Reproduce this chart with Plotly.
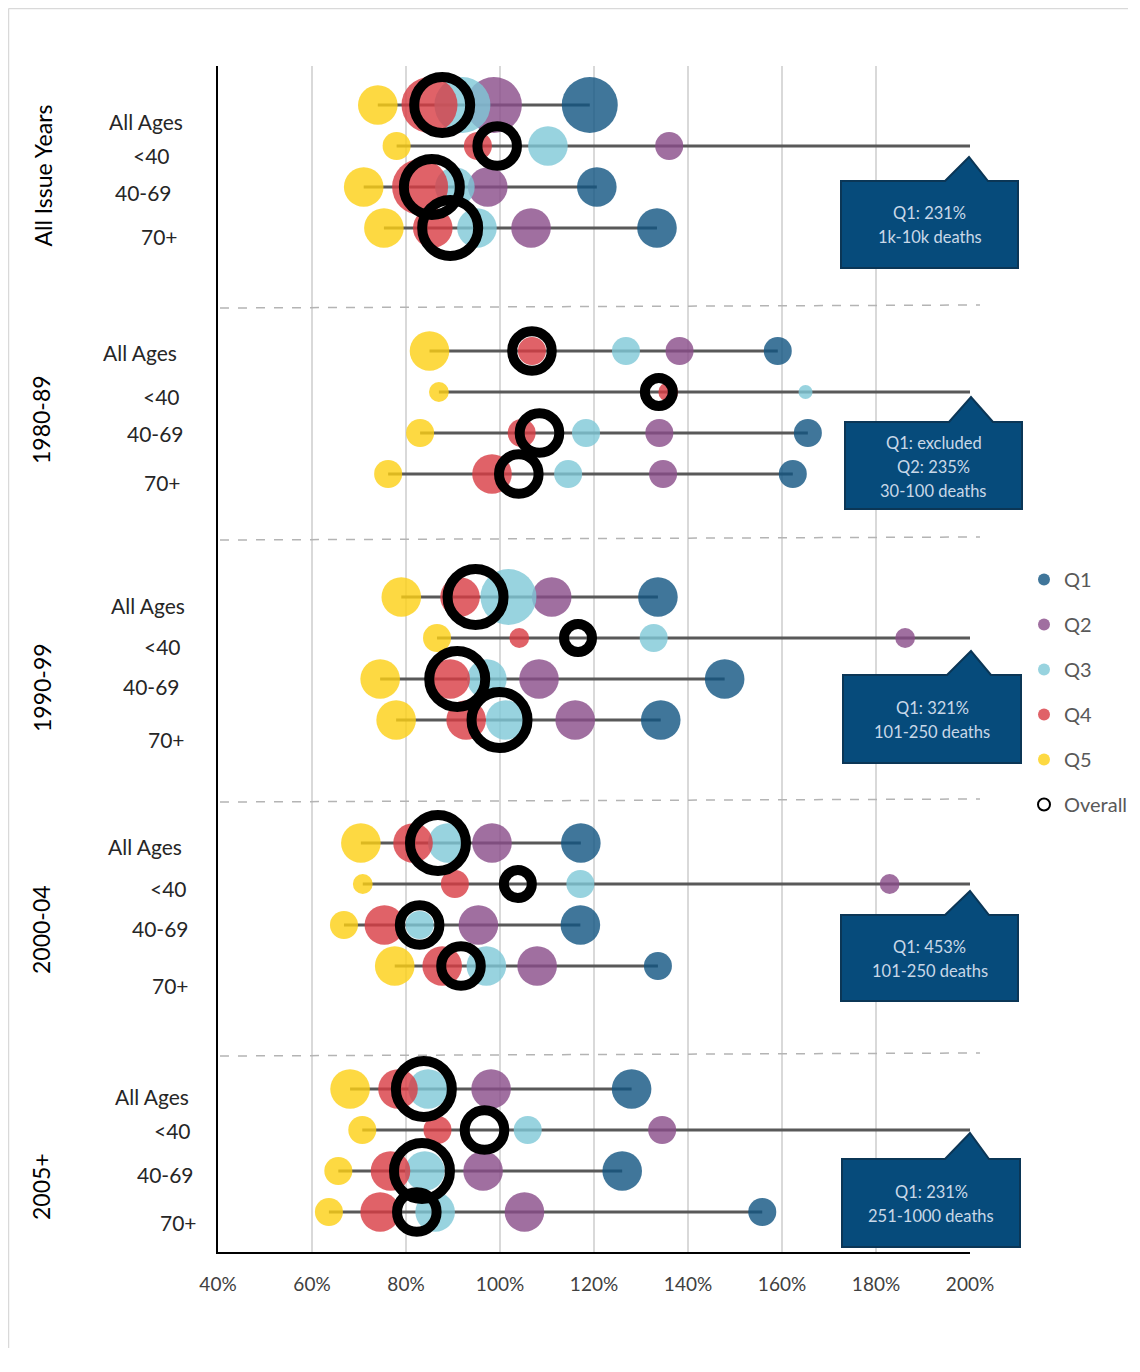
import plotly.graph_objects as go

# ---------------- data ----------------
groups = ["All Issue Years", "1980-89", "1990-99", "2000-04", "2005+"]
ages = ["All Ages", "<40", "40-69", "70+"]

# actual / expected ratios (%) per row (group-major, age-minor); None = off chart / excluded
q1 = [119.1, None, 120.6, 133.4, 159.1, None, 165.5, 162.3, 133.6, None, 147.8, 134.2,
      117.2, None, 117.1, 133.6, 128.0, None, 126.0, 155.8]
q2 = [98.7, 136.0, 97.4, 106.6, 138.2, None, 133.9, 134.7, 111.0, 186.2, 108.3, 116.0,
      98.3, 182.9, 95.4, 107.9, 98.1, 134.5, 96.4, 105.2]
q3 = [92.0, 110.2, 90.4, 95.1, 126.8, 165.0, 118.3, 114.5, 101.8, 132.7, 97.2, 101.2,
      88.9, 117.1, 82.9, 97.1, 84.7, 105.9, 84.0, 86.2]
q4 = [85.0, 95.3, 83.0, 85.7, 106.8, 135.8, 104.6, 98.3, 91.5, 104.1, 89.4, 92.8,
      81.5, 90.4, 75.4, 87.7, 78.3, 86.7, 76.7, 74.5]
q5 = [74.0, 78.0, 71.0, 75.3, 85.0, 87.0, 83.0, 76.2, 79.0, 86.6, 74.5, 77.9,
      70.4, 70.8, 66.8, 77.6, 68.1, 70.7, 65.6, 63.6]
overall = [87.7, 99.4, 85.5, 89.4, 106.8, 133.8, 108.4, 104.0, 94.8, 116.6, 90.9, 99.9,
           86.8, 103.8, 82.9, 91.7, 83.8, 96.7, 83.4, 82.3]

# relative volume (bubble area)
q1_vol = [16, None, 8, 8, 4, None, 4, 4, 8, None, 8, 8, 8, None, 8, 4, 8, None, 8, 4]
q2_vol = [16, 4, 8, 8, 4, None, 4, 4, 8, 2, 8, 8, 8, 2, 8, 8, 8, 4, 8, 8]
q3_vol = [16, 8, 8, 8, 4, 1, 4, 4, 16, 4, 8, 8, 8, 4, 4, 8, 8, 4, 8, 8]
q4_vol = [16, 4, 16, 8, 4, 2, 4, 8, 8, 2, 8, 8, 8, 4, 8, 8, 8, 4, 8, 8]
q5_vol = [8, 4, 8, 8, 8, 2, 4, 4, 8, 4, 8, 8, 8, 2, 4, 8, 8, 4, 4, 4]
overall_vol = [16, 8, 16, 16, 8, 4, 8, 8, 16, 4, 16, 16, 16, 4, 8, 8, 16, 8, 16, 8]

callout_texts = [
    ["Q1: 231%", "1k-10k deaths"],
    ["Q1: excluded", "Q2: 235%", "30-100 deaths"],
    ["Q1: 321%", "101-250 deaths"],
    ["Q1: 453%", "101-250 deaths"],
    ["Q1: 231%", "251-1000 deaths"],
]

x_ticks = [40, 60, 80, 100, 120, 140, 160, 180, 200]
x_tick_labels = ["40%", "60%", "80%", "100%", "120%", "140%", "160%", "180%", "200%"]
x_max = 200

# ---------------- layout helpers ----------------
W, H = 1120, 1340
PL, PR, PT, PB = 218, 970, 66, 1252   # plot area in page pixels


def px(x):
    return (x - PL) / (PR - PL)


def py(y):
    return (PB - y) / (PB - PT)


row_y = [g * 6 + a for g in range(len(groups)) for a in range(len(ages))]

FONT = "Lato"

fig = go.Figure()

# range lines
lx, ly = [], []
series = [q1, q2, q3, q4, q5]
for i, yv in enumerate(row_y):
    vals = [s[i] for s in series]
    present = [v for v in vals if v is not None]
    start = min(present)
    end = x_max if any(v is None for v in vals) else max(present)
    lx += [start, end, None]
    ly += [yv, yv, None]
fig.add_trace(go.Scatter(x=lx, y=ly, mode="lines", line=dict(color="#595959", width=3),
                         showlegend=False, hoverinfo="skip"))

colors = ["#105481", "#884b88", "#7ec8d7", "#d83b42", "#fccf13"]
names = ["Q1", "Q2", "Q3", "Q4", "Q5"]
vols = [q1_vol, q2_vol, q3_vol, q4_vol, q5_vol]
SIZEREF = 1 / 98.0

for name, col, s, v in zip(names, colors, series, vols):
    xs = [s[i] for i in range(len(s)) if s[i] is not None]
    ys = [row_y[i] for i in range(len(s)) if s[i] is not None]
    ss = [v[i] for i in range(len(s)) if s[i] is not None]
    fig.add_trace(go.Scatter(
        x=xs, y=ys, mode="markers", name=name, legendgroup=name,
        marker=dict(color=col, opacity=0.8, size=ss, sizemode="area", sizeref=SIZEREF,
                    line=dict(width=0)),
    ))

fig.add_trace(go.Scatter(
    x=overall, y=row_y, mode="markers", name="Overall", legendgroup="Overall",
    marker=dict(color="rgba(0,0,0,0)", opacity=1, size=overall_vol, sizemode="area",
                sizeref=SIZEREF, line=dict(color="black", width=10)),
))

shapes = []
# group separators (dashed)
for (yl, yr) in [(308, 305), (540, 537), (802, 799), (1056, 1053)]:
    shapes.append(dict(type="line", xref="paper", yref="paper", x0=px(220), x1=px(980),
                       y0=py(yl), y1=py(yr), line=dict(color="#b4b4b4", width=1.5, dash="dash"),
                       layer="above"))

# callouts
callouts = [
    (841, 1018, 181, 268, 945, 988, 969, 157),
    (845, 1022, 422, 509, 949, 993, 971, 397),
    (843, 1021, 675, 763, 947, 991, 971, 651),
    (841, 1018, 915, 1001, 945, 989, 970, 891),
    (842, 1020, 1159, 1247, 945, 989, 970, 1133),
]
annotations = []
LINE_GAP = 24
for (l, r, t, b, bl, br, tx, ty), lines in zip(callouts, callout_texts):
    path = (f"M {px(l)},{py(t)} L {px(bl)},{py(t)} L {px(tx)},{py(ty)} L {px(br)},{py(t)} "
            f"L {px(r)},{py(t)} L {px(r)},{py(b)} L {px(l)},{py(b)} Z")
    shapes.append(dict(type="path", xref="paper", yref="paper", path=path,
                       fillcolor="#064b7b", line=dict(color="#0b3656", width=2), layer="above"))
    cy = (t + b) / 2 + 1
    n = len(lines)
    for k, ln in enumerate(lines):
        yy = cy + (k - (n - 1) / 2) * LINE_GAP
        annotations.append(dict(xref="paper", yref="paper", x=px((l + r) / 2), y=py(yy),
                                text=ln, showarrow=False, xanchor="center", yanchor="middle",
                                font=dict(family=FONT, size=16.5, color="#c9d8e8")))

# outer border (left & top)
shapes.append(dict(type="line", xref="paper", yref="paper", x0=px(8.5), x1=px(8.5),
                   y0=py(8.5), y1=py(1400), line=dict(color="#d9d9d9", width=1.5)))
shapes.append(dict(type="line", xref="paper", yref="paper", x0=px(8.5), x1=px(1160),
                   y0=py(8.5), y1=py(8.5), line=dict(color="#d9d9d9", width=1.5)))

# age labels
age_label_dy = [16, 9, 5, 8, 1, 4, 0, 8, 8, 8, 7, 19, 3, 4, 3, 19, 7, 0, 3, 10]
age_label_cx = [145.5, 151, 143.5, 159.5, 139.5, 161, 155.5, 162.5, 147.5, 162.5, 151.5, 166,
                144.5, 168, 160, 170.5, 151.5, 172, 165.5, 178.5]
for i, yv in enumerate(row_y):
    annotations.append(dict(xref="paper", yref="y", x=px(age_label_cx[i]), y=yv,
                            yshift=-age_label_dy[i], text=ages[i % 4], showarrow=False,
                            xanchor="center", yanchor="middle",
                            font=dict(family=FONT, size=21, color="#262626")))

# group labels
group_label_pos = [(42.5, 176), (41, 420), (42, 688), (41, 930), (41, 1187)]
for g, (gx, gy) in zip(groups, group_label_pos):
    annotations.append(dict(xref="paper", yref="paper", x=px(gx), y=py(gy), text=g,
                            showarrow=False, textangle=-90, xanchor="center", yanchor="middle",
                            font=dict(family=FONT, size=23, color="#000000")))

fig.update_layout(
    width=W, height=H,
    margin=dict(l=PL - 8, r=W - (PR - 8), t=PT - 8, b=H - (PB - 8), autoexpand=False),
    paper_bgcolor="white", plot_bgcolor="white",
    showlegend=True,
    legend=dict(x=px(1024), y=py(560), xanchor="left", yanchor="top",
                font=dict(family=FONT, size=20, color="#595959"),
                itemsizing="constant", traceorder="grouped", tracegroupgap=16,
                bgcolor="rgba(0,0,0,0)"),
    xaxis=dict(range=[40, 200], tickvals=x_ticks, ticktext=x_tick_labels,
               showgrid=True, gridcolor="#d9d9d9", gridwidth=2,
               showline=True, linecolor="black", linewidth=2, zeroline=False,
               ticks="", ticklabelstandoff=14,
               tickfont=dict(family=FONT, size=19, color="#404040")),
    yaxis=dict(range=[(PB - 105) / 41.0, (PT - 105) / 41.0], showgrid=False,
               showline=True, linecolor="black", linewidth=2, zeroline=False,
               showticklabels=False, ticks=""),
    shapes=shapes, annotations=annotations,
    hovermode=False,
)

fig.write_html("out.html")
